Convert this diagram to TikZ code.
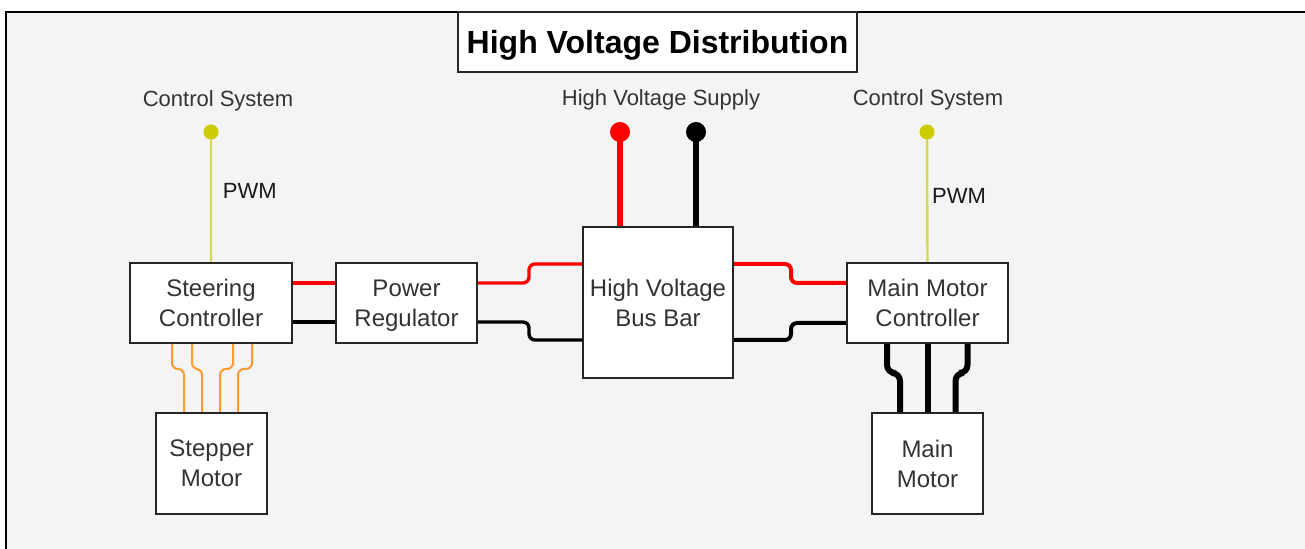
\documentclass[tikz,border=0pt]{standalone}
\usepackage{fontspec}
\setmainfont{Liberation Sans}
\usetikzlibrary{calc}

\definecolor{bggray}{HTML}{F4F4F4}
\definecolor{txtgray}{HTML}{333333}
\definecolor{pwmyellow}{HTML}{D8D850}
\definecolor{dotyellow}{HTML}{CCCC00}
\definecolor{coilorange}{HTML}{FF9933}
\definecolor{hvred}{HTML}{FF0000}

\begin{document}
\begin{tikzpicture}[x=0.5pt,y=-0.5pt,
  block/.style={draw=black!85,line width=1pt,fill=white,align=center,inner sep=0pt,
    text depth=0pt,font=\fontsize{12}{15}\selectfont,text=txtgray},
  tag/.style={font=\fontsize{11}{13}\selectfont,text=txtgray},
  pwm/.style={pwmyellow,line width=1.2pt},
  redwire/.style={hvred,line width=1.7pt,rounded corners=3pt},
  blackwire/.style={black,line width=1.7pt,rounded corners=3pt},
  coil/.style={coilorange,line width=1pt,rounded corners=3pt},
  phase/.style={black,line width=3pt,rounded corners=4pt}]
  \useasboundingbox (0,0) rectangle (1305,549);
  \clip (0,0) rectangle (1305,549);
  \fill[white] (0,0) rectangle (1305,549);
  \draw[fill=bggray,line width=1pt] (6,12) rectangle (1330,570);

  % title
  \node[block,text=black,minimum width=199.5pt,minimum height=30pt,
    font=\bfseries\fontsize{16}{19}\selectfont] (title) at (657.5,42) {High Voltage Distribution};

  % boxes
  \node[block,minimum width=81pt,minimum height=40pt] (steer) at (211,303) {Steering\\Controller};
  \node[block,minimum width=55.5pt,minimum height=50.5pt] (stepper) at (211.5,463.5) {Stepper\\Motor};
  \node[block,minimum width=70.5pt,minimum height=40pt] (reg) at (406.5,303) {Power\\Regulator};
  \node[block,minimum width=75pt,minimum height=75.5pt] (bus) at (658,302.5) {High Voltage\\Bus Bar};
  \node[block,minimum width=80.5pt,minimum height=40pt] (mmc) at (927.5,303) {Main Motor\\Controller};
  \node[block,minimum width=55.5pt,minimum height=50.5pt] (motor) at (927.5,463.5) {Main\\Motor};

  % labels
  \node[tag] (cs left) at (218,101) {Control System};
  \node[tag] (cs right) at (928,100) {Control System};
  \node[tag] (supply) at (661,100) {High Voltage Supply};

  % control signals
  \coordinate (pwm left) at (211,132);
  \coordinate (pwm right) at (927,132);
  \draw[pwm] (pwm left) -- (steer.north) node[pos=0.45,right=2pt,tag,text=black!90] {PWM};
  \draw[pwm] (pwm right) -- (mmc.north) node[pos=0.49,right=-1.5pt,tag,text=black!90] {PWM};
  \fill[dotyellow] (pwm left) circle [radius=3.75pt];
  \fill[dotyellow] (pwm right) circle [radius=3.75pt];

  % supply terminals
  \coordinate (plus) at (620,132);
  \coordinate (minus) at (696,132);
  \draw[hvred,line width=2.8pt] (plus) -- (plus |- bus.north);
  \draw[black,line width=2.8pt] (minus) -- (minus |- bus.north);
  \fill[hvred] (plus) circle [radius=5pt];
  \fill[black] (minus) circle [radius=5pt];

  % power lines
  \draw[redwire] ($(steer.east)+(0,-20)$) -- ($(reg.west)+(0,-20)$);
  \draw[blackwire] ($(steer.east)+(0,19)$) -- ($(reg.west)+(0,19)$);
  \draw[redwire] ($(reg.east)+(0,-20)$) -- ++(51,0) -- ++(0,-19) -- ($(bus.west)+(0,-38.5)$);
  \draw[blackwire] ($(reg.east)+(0,19)$) -- ++(51,0) -- ++(0,18) -- ($(bus.west)+(0,37.5)$);
  \draw[redwire,line width=2pt] ($(bus.east)+(0,-38.5)$) -- ++(57,0) -- ++(0,19) -- ($(mmc.west)+(0,-20)$);
  \draw[blackwire,line width=2pt] ($(bus.east)+(0,37.5)$) -- ++(57,0) -- ++(0,-17) -- ($(mmc.west)+(0,20)$);

  % stepper coils
  \foreach \a/\b in {-39/-27.5,-19/-9.5,22/8.5,41/26.5}
    \draw[coil] ($(steer.south)+(\a,0)$) -- ++(0,25) -| ($(stepper.north)+(\b,0)$);

  % motor phases
  \foreach \a/\b in {-40.5/-27.5,40/28}
    \draw[phase] ($(mmc.south)+(\a,0)$) -- ++(0,29) -| ($(motor.north)+(\b,0)$);
  \draw[phase] (mmc.south) -- (motor.north);
\end{tikzpicture}
\end{document}
